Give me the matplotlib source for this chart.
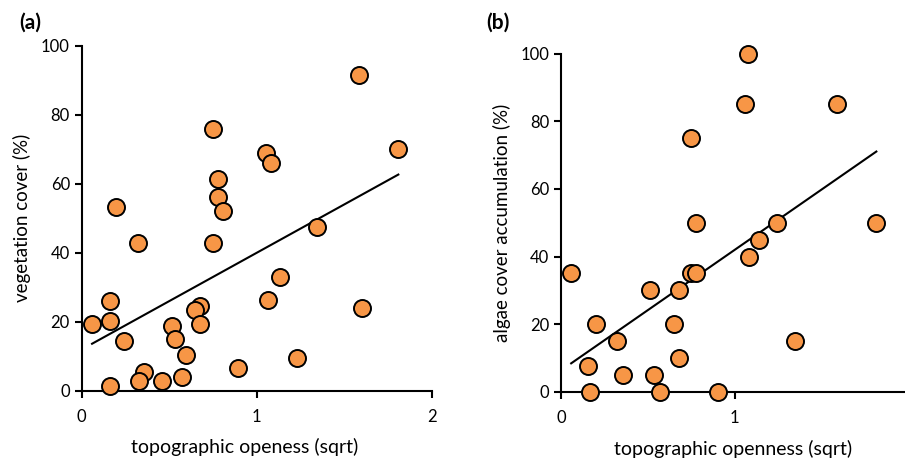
import matplotlib
matplotlib.use("Agg")
import matplotlib.pyplot as plt
import numpy as np

plt.rcParams["font.family"] = ["Lato", "DejaVu Sans"]

# (a) vegetation cover vs topographic openness
openness_a = np.array([
    1.582, 0.750, 1.808, 1.050, 1.079, 0.777, 0.780, 0.809, 0.195, 1.341,
    0.323, 0.752, 1.130, 0.163, 1.065, 1.599, 0.676, 0.647, 0.059, 0.160,
    0.513, 0.676, 0.243, 0.530, 0.593, 1.232, 0.892, 0.355, 0.326, 0.459,
    0.572, 0.160,
])
vegetation = np.array([
    91.5, 75.8, 70.1, 68.8, 66.1, 61.4, 56.1, 52.2, 53.2, 47.5,
    42.8, 42.8, 33.0, 26.0, 26.3, 24.1, 24.6, 23.3, 19.4, 20.1,
    18.8, 19.4, 14.5, 15.1, 10.4, 9.4, 6.7, 5.5, 2.7, 2.7,
    4.1, 1.4,
])

# (b) algae cover accumulation vs topographic openness
openness_b = np.array([
    1.075, 1.059, 1.589, 0.748, 0.779, 1.244, 1.815, 1.138, 1.080, 0.058,
    0.748, 0.777, 0.514, 0.679, 0.203, 0.649, 0.320, 1.345, 0.679, 0.157,
    0.357, 0.537, 0.165, 0.572, 0.902,
])
algae = np.array([
    100, 85, 85, 75, 50, 50, 50, 45, 40, 35,
    35, 35, 30, 30, 20, 20, 15, 15, 10, 7.5,
    5, 5, 0, 0, 0,
])

ORANGE = "#F79646"


def style_axes(ax):
    for side in ("top", "right"):
        ax.spines[side].set_visible(False)
    for side in ("left", "bottom"):
        ax.spines[side].set_linewidth(1.5)
    ax.tick_params(direction="out", length=5, width=1.5, labelsize=12,
                   colors="black")
    ax.tick_params(axis="x", pad=8)


def scatter_with_trend(ax, x, y):
    ax.scatter(x, y, s=150, c=ORANGE, edgecolors="black", linewidths=1.4,
               zorder=3, clip_on=False)
    k, b = np.polyfit(x, y, 1)
    xs = np.array([x.min(), x.max()])
    ax.plot(xs, k * xs + b, color="black", lw=1.5, zorder=2)


fig = plt.figure(figsize=(9.05, 4.59), dpi=100)

ax1 = fig.add_axes([0.0903, 0.1488, 0.387, 0.7516])
scatter_with_trend(ax1, openness_a, vegetation)
ax1.set_xlim(0, 2)
ax1.set_ylim(0, 100)
ax1.set_xticks([0, 1, 2])
ax1.set_yticks(np.arange(0, 101, 20))
ax1.set_xlabel("topographic openess (sqrt)", fontsize=14)
ax1.xaxis.set_label_coords(0.465, -0.138)
ax1.set_ylabel("vegetation cover (%)", fontsize=13.5, labelpad=7)
style_axes(ax1)

ax2 = fig.add_axes([0.620, 0.1466, 0.380, 0.7364])
scatter_with_trend(ax2, openness_b, algae)
ax2.set_xlim(0, 1.98)
ax2.set_ylim(0, 100)
ax2.set_xticks([0, 1])
ax2.set_yticks(np.arange(0, 101, 20))
ax2.set_xlabel("topographic openness (sqrt)", fontsize=14, labelpad=10)
ax2.set_ylabel("algae cover accumulation (%)", fontsize=13.5, labelpad=7)
style_axes(ax2)

fig.text(0.021, 0.950, "(a)", fontsize=15, fontweight="bold", va="center")
fig.text(0.537, 0.950, "(b)", fontsize=15, fontweight="bold", va="center")

fig.savefig("out.png", dpi=100)
